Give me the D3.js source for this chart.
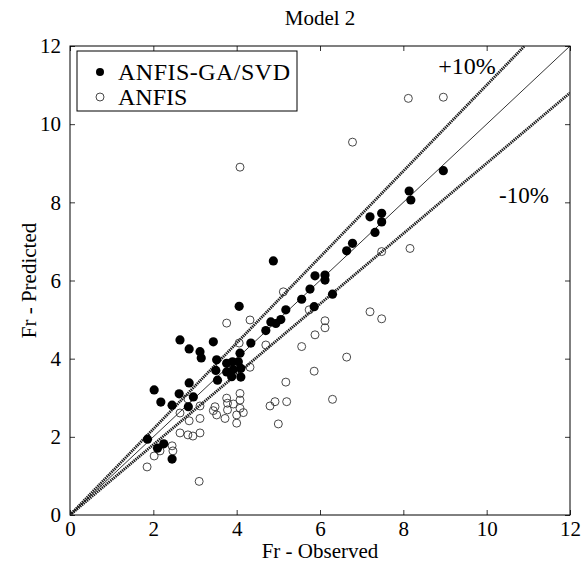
<!DOCTYPE html>
<html><head><meta charset="utf-8">
<script src="https://cdn.jsdelivr.net/npm/d3@7"></script>
<style>body{margin:0;background:#fff}svg{display:block}text{font-family:"Liberation Serif","Times New Roman",serif;fill:#000}</style>
</head><body><svg id="c" width="587" height="571"></svg>
<script>
const title = "Model 2";
const xLabel = "Fr - Observed";
const yLabel = "Fr - Predicted";
const seriesNames = ["ANFIS-GA/SVD", "ANFIS"];
const ticks = [0, 2, 4, 6, 8, 10, 12];
const bandFactors = [1.1, 0.9];
const bandLabels = ["+10%", "-10%"];

const anfisGA = [
[1.86,1.94],[2.10,1.71],[2.25,1.82],[2.45,1.43],
[2.02,3.20],[2.18,2.89],[2.45,2.81],[2.62,3.10],[2.86,3.38],[2.96,3.02],[2.84,2.77],
[2.64,4.48],[2.86,4.25],[3.12,4.18],[3.15,4.02],
[3.44,4.43],[3.52,3.97],[3.50,3.70],[3.54,3.45],[3.76,3.88],[3.76,3.66],[3.90,3.92],[3.92,3.72],[3.88,3.54],
[4.08,4.14],[4.04,3.92],[4.10,3.75],[4.10,3.53],[4.06,5.34],[4.34,4.40],[4.70,4.72],[4.82,4.94],[4.94,4.90],
[5.06,5.00],[5.18,5.25],[4.88,6.50],[5.56,5.52],[5.76,5.78],[5.86,5.33],[5.88,6.12],[6.12,6.14],[6.12,6.01],
[6.30,5.65],[6.64,6.76],[6.78,6.95],[7.20,7.63],[7.32,7.23],[7.48,7.72],[7.48,7.50],[8.14,8.29],[8.18,8.06],[8.96,8.81]
];
const anfis = [
[1.85,1.23],[2.02,1.51],[2.16,1.64],[2.45,1.77],[2.47,1.64],[2.64,2.10],[2.83,2.05],[2.95,2.02],[2.64,2.61],
[2.86,2.41],[2.83,2.97],[3.10,0.86],[3.12,2.47],[3.12,2.10],[3.12,2.79],
[3.48,2.77],[3.44,2.67],[3.52,2.56],[3.72,2.47],[3.76,2.99],[3.78,2.86],[3.78,2.69],[4.00,2.35],[4.08,3.11],
[4.08,2.94],[4.08,2.73],[4.00,2.56],[4.16,2.62],[3.92,2.84],
[4.80,2.79],[4.92,2.90],[5.20,2.90],[5.00,2.33],[5.18,3.40],[4.32,3.78],[3.76,4.91],[4.32,4.99],[4.06,4.40],
[4.70,4.35],[5.12,5.71],[5.56,4.31],[5.88,4.61],[6.12,4.97],[6.12,4.79],[5.74,5.25],[5.86,3.68],[6.30,2.96],
[6.64,4.04],[7.20,5.20],[7.48,5.02],[7.48,6.74],[8.16,6.82],[6.78,9.54],[8.12,10.66],[8.96,10.69],[4.08,8.90]
];

const svg = d3.select("#c");
const L = 70, R = 570, T = 46, B = 515;
const x = d3.scaleLinear().domain([0, 12]).range([L, R]);
const y = d3.scaleLinear().domain([0, 12]).range([B, T]);

svg.append("defs").append("clipPath").attr("id", "clip")
  .append("rect").attr("x", L).attr("y", T).attr("width", R - L).attr("height", B - T);

// axes with inward ticks
const tk = 5;
svg.append("g").attr("transform", `translate(0,${B})`)
  .call(d3.axisBottom(x).tickValues(ticks).tickSizeInner(-tk).tickSizeOuter(0).tickPadding(6))
  .call(g => g.selectAll("text").attr("font-size", 21).attr("dy", "0.71em"));
svg.append("g").attr("transform", `translate(0,${T})`)
  .call(d3.axisTop(x).tickValues(ticks).tickSizeInner(-tk).tickSizeOuter(0).tickFormat(""));
svg.append("g").attr("transform", `translate(${L},0)`)
  .call(d3.axisLeft(y).tickValues(ticks).tickSizeInner(-tk).tickSizeOuter(0).tickPadding(9))
  .call(g => g.selectAll("text").attr("font-size", 21));
svg.append("g").attr("transform", `translate(${R},0)`)
  .call(d3.axisRight(y).tickValues(ticks).tickSizeInner(-tk).tickSizeOuter(0).tickFormat(""));
svg.selectAll(".domain").remove();
svg.selectAll(".tick line").attr("stroke", "#000").attr("stroke-width", 0.8);
svg.selectAll(".tick text").attr("font-family", "Liberation Serif");
svg.append("rect").attr("x", L).attr("y", T).attr("width", R - L).attr("height", B - T)
  .attr("fill", "none").attr("stroke", "#000").attr("stroke-width", 1);

const plot = svg.append("g").attr("clip-path", "url(#clip)");
// reference line y = x
plot.append("line").attr("x1", x(0)).attr("y1", y(0)).attr("x2", x(12)).attr("y2", y(12))
  .attr("stroke", "#000").attr("stroke-width", 0.8);
// ±10% lines
bandFactors.forEach(f => {
  const xe = Math.min(12, 12 / f);
  plot.append("line").attr("x1", x(0)).attr("y1", y(0)).attr("x2", x(xe)).attr("y2", y(xe * f))
    .attr("stroke", "#1a1a1a").attr("stroke-width", 2.8).attr("stroke-dasharray", "1.4,0.8");
});

// points
plot.selectAll("circle.o").data(anfis).join("circle").attr("class", "o")
  .attr("cx", d => x(d[0])).attr("cy", d => y(d[1])).attr("r", 4)
  .attr("fill", "none").attr("stroke", "#333").attr("stroke-width", 0.9);
plot.selectAll("circle.f").data(anfisGA).join("circle").attr("class", "f")
  .attr("cx", d => x(d[0])).attr("cy", d => y(d[1])).attr("r", 4.6)
  .attr("fill", "#000");

// band labels
svg.append("text").attr("x", 467).attr("y", 74).attr("text-anchor", "middle").attr("font-size", 24).text(bandLabels[0]);
svg.append("text").attr("x", 524).attr("y", 203).attr("text-anchor", "middle").attr("font-size", 23).text(bandLabels[1]);

// legend
const lg = svg.append("g");
lg.append("rect").attr("x", 77).attr("y", 51).attr("width", 220).attr("height", 60)
  .attr("fill", "#fff").attr("stroke", "#000").attr("stroke-width", 1);
lg.append("circle").attr("cx", 100).attr("cy", 72).attr("r", 4).attr("fill", "#000");
lg.append("circle").attr("cx", 100).attr("cy", 97).attr("r", 4).attr("fill", "none").attr("stroke", "#333").attr("stroke-width", 0.9);
lg.append("text").attr("x", 118).attr("y", 80).attr("font-size", 24).attr("textLength", 172).text(seriesNames[0]);
lg.append("text").attr("x", 118).attr("y", 105).attr("font-size", 24).text(seriesNames[1]);

// title & axis labels
svg.append("text").attr("x", 320).attr("y", 25).attr("text-anchor", "middle").attr("font-size", 21).text(title);
svg.append("text").attr("x", 320).attr("y", 558).attr("text-anchor", "middle").attr("font-size", 21).text(xLabel);
svg.append("text").attr("transform", `translate(36,${(T + B) / 2}) rotate(-90)`).attr("text-anchor", "middle").attr("font-size", 21).text(yLabel);
</script></body></html>
